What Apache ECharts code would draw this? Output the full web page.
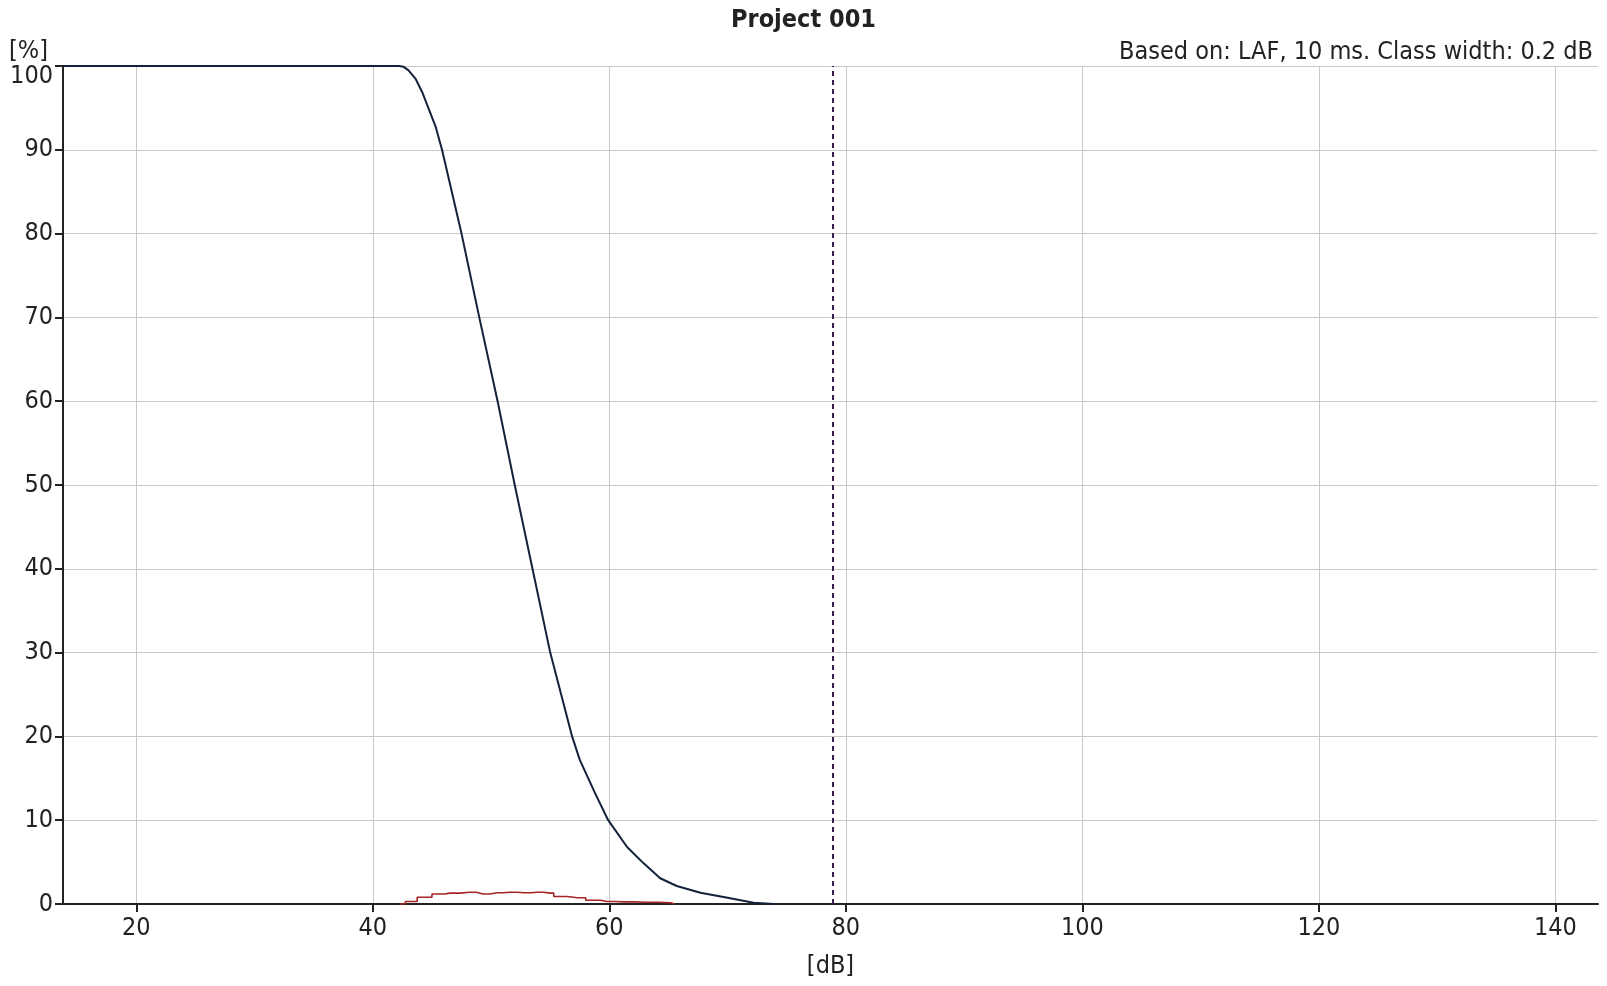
<!DOCTYPE html>
<html>
<head>
<meta charset="utf-8">
<script src="https://cdn.jsdelivr.net/npm/echarts@6/dist/echarts.min.js"></script>
<style>
html,body{margin:0;padding:0;background:#fff;}
#chart{width:1607px;height:986px;}
</style>
</head>
<body>
<div id="chart"></div>
<script>
// Cumulative distribution (percent of time level exceeded)
const cumDb  = [13.8, 42.2, 42.6, 43.0, 43.6, 44.2, 45.3, 45.85, 47.5, 49.0, 50.55, 52.0, 53.5, 55.0, 56.85, 57.5, 58.8, 59.9, 61.5, 62.9, 64.3, 65.7, 67.7, 70.0, 72.2, 73.9];
const cumPct = [100, 100, 99.9, 99.5, 98.5, 96.8, 92.8, 90, 80, 70, 60, 50, 40, 30, 20, 17.2, 13.2, 10, 6.8, 4.85, 3.07, 2.15, 1.35, 0.75, 0.15, 0];
// Level distribution (percent per 0.2 dB class)
const distDb  = [42.3, 43.2, 44.3, 45.7, 46.5, 48.2, 49.3, 50.5, 51.6, 52.8, 53.9, 55.0, 55.6, 57.3, 58.7, 59.8, 61.2, 63.0, 65.2, 65.5];
const distPct = [0, 0.3, 0.8, 1.2, 1.3, 1.4, 1.2, 1.35, 1.4, 1.35, 1.4, 1.3, 0.9, 0.75, 0.45, 0.3, 0.25, 0.2, 0.15, 0];
// Vertical marker (dB)
const markerDb = 78.9;
// Axis ticks
const xTicks = [20, 40, 60, 80, 100, 120, 140];
const xMin = 13.8, xMax = 143.6;
const yMin = 0, yMax = 100, yStep = 10;

const FONT = "'DejaVu Sans Condensed', 'DejaVu Sans', sans-serif";
const TXT = '#222';
const FS = 25;

const chart = echarts.init(document.getElementById('chart'), null, {renderer: 'canvas'});
const option = {
  animation: false,
  backgroundColor: '#fff',
  textStyle: {fontFamily: FONT, color: TXT},
  title: [
    {text: 'Project 001', left: 'center', top: 3,
     textStyle: {fontFamily: FONT, fontSize: FS, fontWeight: 'bold', color: TXT}},
    {text: 'Based on: LAF, 10 ms. Class width: 0.2 dB', right: 9, top: 35,
     textStyle: {fontFamily: FONT, fontSize: FS, fontWeight: 'normal', color: TXT}},
    {text: '[%]', left: 4, top: 34,
     textStyle: {fontFamily: FONT, fontSize: FS, fontWeight: 'normal', color: TXT}}
  ],
  grid: {left: 63, right: 9, top: 66, bottom: 82, containLabel: false},
  xAxis: {
    type: 'value', min: xMin, max: xMax, splitNumber: 6,
    name: '[dB]', nameLocation: 'middle', nameGap: 50,
    nameTextStyle: {fontFamily: FONT, fontSize: FS, color: TXT},
    axisLine: {show: true, onZero: false, lineStyle: {color: '#222', width: 2}},
    axisTick: {show: true, length: 8, customValues: xTicks, lineStyle: {color: '#222', width: 2}},
    axisLabel: {customValues: xTicks, margin: 12, fontFamily: FONT, fontSize: FS, color: TXT},
    splitLine: {show: true, customValues: xTicks, lineStyle: {color: '#c8c8c8', width: 1}}
  },
  yAxis: {
    type: 'value', min: yMin, max: yMax, interval: yStep,
    axisLine: {show: true, lineStyle: {color: '#222', width: 2}},
    axisTick: {show: true, length: 8, lineStyle: {color: '#222', width: 2}},
    axisLabel: {
      margin: 10, fontFamily: FONT, fontSize: FS, color: TXT,
      formatter: v => v === yMax ? '{top|' + v + '}' : String(v),
      rich: {top: {fontFamily: FONT, fontSize: FS, color: TXT, padding: [20, 0, 0, 0]}}
    },
    splitLine: {show: true, lineStyle: {color: '#c8c8c8', width: 1}}
  },
  series: [
    {
      name: 'Distribution', type: 'line', showSymbol: false, symbol: 'none',
      step: 'middle',
      data: distDb.map((d, i) => [d, distPct[i]]),
      lineStyle: {color: '#a52424', width: 1.6},
      z: 3
    },
    {
      name: 'Cumulative', type: 'line', showSymbol: false, symbol: 'none',
      data: cumDb.map((d, i) => [d, cumPct[i]]),
      lineStyle: {color: '#14213a', width: 2},
      z: 4,
      markLine: {
        silent: true, symbol: 'none', label: {show: false},
        lineStyle: {color: '#3a1f4a', type: [5, 4], width: 2},
        data: [{xAxis: markerDb}]
      }
    }
  ]
};
chart.setOption(option);
</script>
</body>
</html>
